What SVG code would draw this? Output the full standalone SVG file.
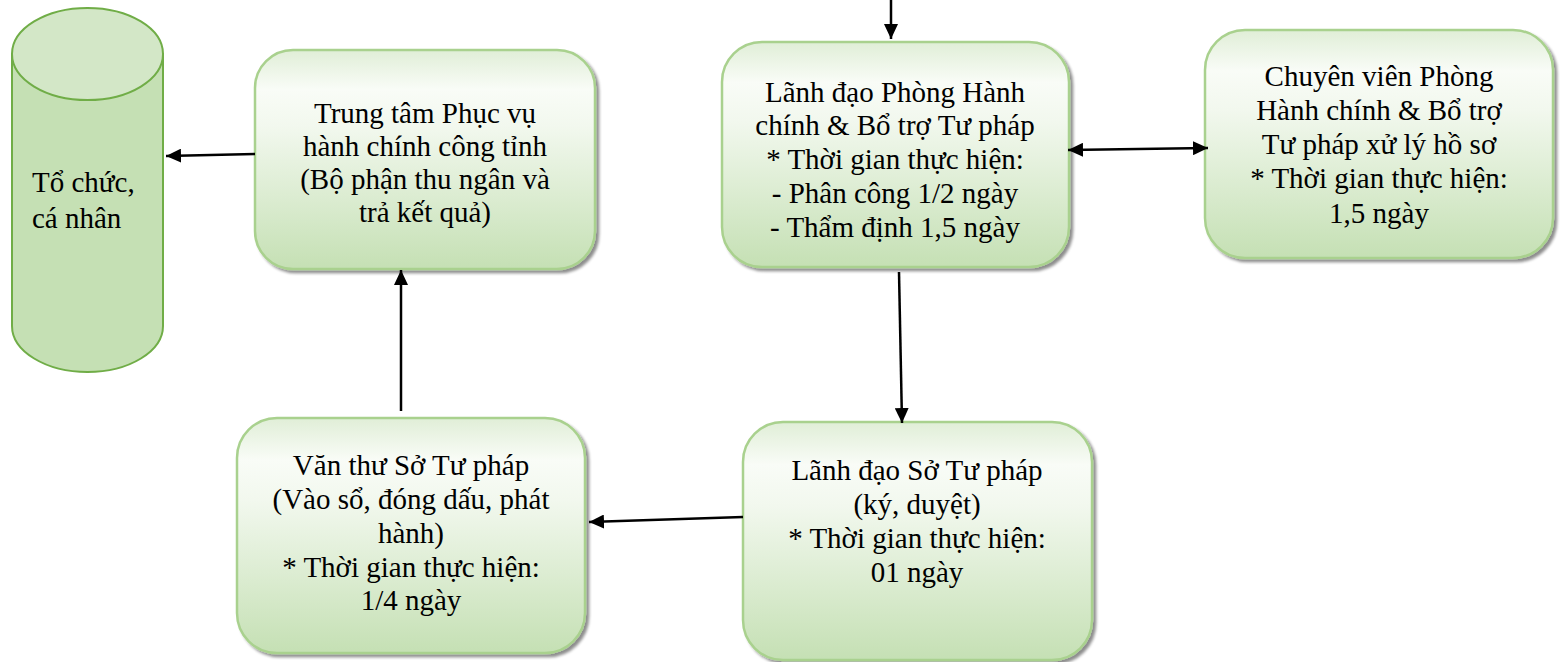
<svg xmlns="http://www.w3.org/2000/svg" width="1564" height="662" viewBox="0 0 1564 662">
<defs>
<linearGradient id="g" x1="0" y1="0" x2="0" y2="1">
<stop offset="0" stop-color="#e0eed7"/>
<stop offset="0.18" stop-color="#f9fcf7"/>
<stop offset="0.35" stop-color="#f2f8ee"/>
<stop offset="1" stop-color="#c5e0b4"/>
</linearGradient>
<filter id="sh" x="-10%" y="-10%" width="125%" height="125%">
<feGaussianBlur in="SourceAlpha" stdDeviation="1.5"/>
<feOffset dx="3" dy="3" result="o"/>
<feComponentTransfer><feFuncA type="linear" slope="0.45"/></feComponentTransfer>
<feMerge><feMergeNode/><feMergeNode in="SourceGraphic"/></feMerge>
</filter>
<marker id="ah" markerUnits="userSpaceOnUse" markerWidth="16" markerHeight="14" refX="15" refY="7" orient="auto-start-reverse">
<path d="M0,0 L15,7 L0,14 Z" fill="#000"/>
</marker>
</defs>
<style>
.box{fill:url(#g);stroke:#a9d18e;stroke-width:2.5;filter:url(#sh)}
.t{font-family:'Liberation Serif','Times New Roman','DejaVu Serif',Times,serif;font-size:29px;fill:#000;text-anchor:middle}
.tl{font-family:'Liberation Serif','Times New Roman','DejaVu Serif',Times,serif;font-size:29px;fill:#000}
.c{stroke:#000;stroke-width:2.5;fill:none;marker-end:url(#ah)}
</style>

<g id="node-to-chuc">
<path d="M12,54 L12,326 A75.5,46 0 0 0 163,326 L163,54 Z" fill="#c5e0b4" stroke="#70ad47" stroke-width="2"/>
<ellipse cx="87.5" cy="54" rx="75.5" ry="46" fill="#d3e7c7" stroke="#70ad47" stroke-width="2"/>
<text class="tl" x="32" y="192">Tổ chức,</text>
<text class="tl" x="32" y="228">cá nhân</text>
</g>

<g id="node-trung-tam">
<rect class="box" x="255" y="50" width="340" height="219" rx="38"/>
<text class="t" x="425" y="123">Trung tâm Phục vụ</text>
<text class="t" x="425" y="156">hành chính công tỉnh</text>
<text class="t" x="425" y="189">(Bộ phận thu ngân và</text>
<text class="t" x="425" y="222">trả kết quả)</text>
</g>

<g id="node-lanh-dao-phong">
<rect class="box" x="722" y="42" width="347" height="225" rx="40"/>
<text class="t" x="895" y="102">Lãnh đạo Phòng Hành</text>
<text class="t" x="895" y="135">chính &amp; Bổ trợ Tư pháp</text>
<text class="t" x="895" y="169">* Thời gian thực hiện:</text>
<text class="t" x="895" y="203">- Phân công 1/2 ngày</text>
<text class="t" x="895" y="237">- Thẩm định 1,5 ngày</text>
</g>

<g id="node-chuyen-vien">
<rect class="box" x="1205" y="30" width="348" height="228" rx="40"/>
<text class="t" x="1379" y="86">Chuyên viên Phòng</text>
<text class="t" x="1379" y="120">Hành chính &amp; Bổ trợ</text>
<text class="t" x="1379" y="154">Tư pháp xử lý hồ sơ</text>
<text class="t" x="1379" y="188">* Thời gian thực hiện:</text>
<text class="t" x="1379" y="223">1,5 ngày</text>
</g>

<g id="node-van-thu">
<rect class="box" x="237" y="418" width="348" height="235" rx="40"/>
<text class="t" x="411" y="475">Văn thư Sở Tư pháp</text>
<text class="t" x="411" y="509">(Vào sổ, đóng dấu, phát</text>
<text class="t" x="411" y="543">hành)</text>
<text class="t" x="411" y="577">* Thời gian thực hiện:</text>
<text class="t" x="411" y="610">1/4 ngày</text>
</g>

<g id="node-lanh-dao-so">
<rect class="box" x="743" y="422" width="349" height="238" rx="40"/>
<text class="t" x="917" y="480">Lãnh đạo Sở Tư pháp</text>
<text class="t" x="917" y="514">(ký, duyệt)</text>
<text class="t" x="917" y="548">* Thời gian thực hiện:</text>
<text class="t" x="917" y="582">01 ngày</text>
</g>

<g id="connectors">
<line class="c" x1="891" y1="0" x2="891" y2="39"/>
<line class="c" x1="255" y1="154" x2="166" y2="156"/>
<line class="c" x1="401" y1="411" x2="401" y2="270"/>
<line class="c" x1="1068" y1="150" x2="1208" y2="148" marker-start="url(#ah)"/>
<line class="c" x1="899" y1="272" x2="902" y2="423"/>
<line class="c" x1="743" y1="517" x2="589" y2="522"/>
</g>
</svg>
